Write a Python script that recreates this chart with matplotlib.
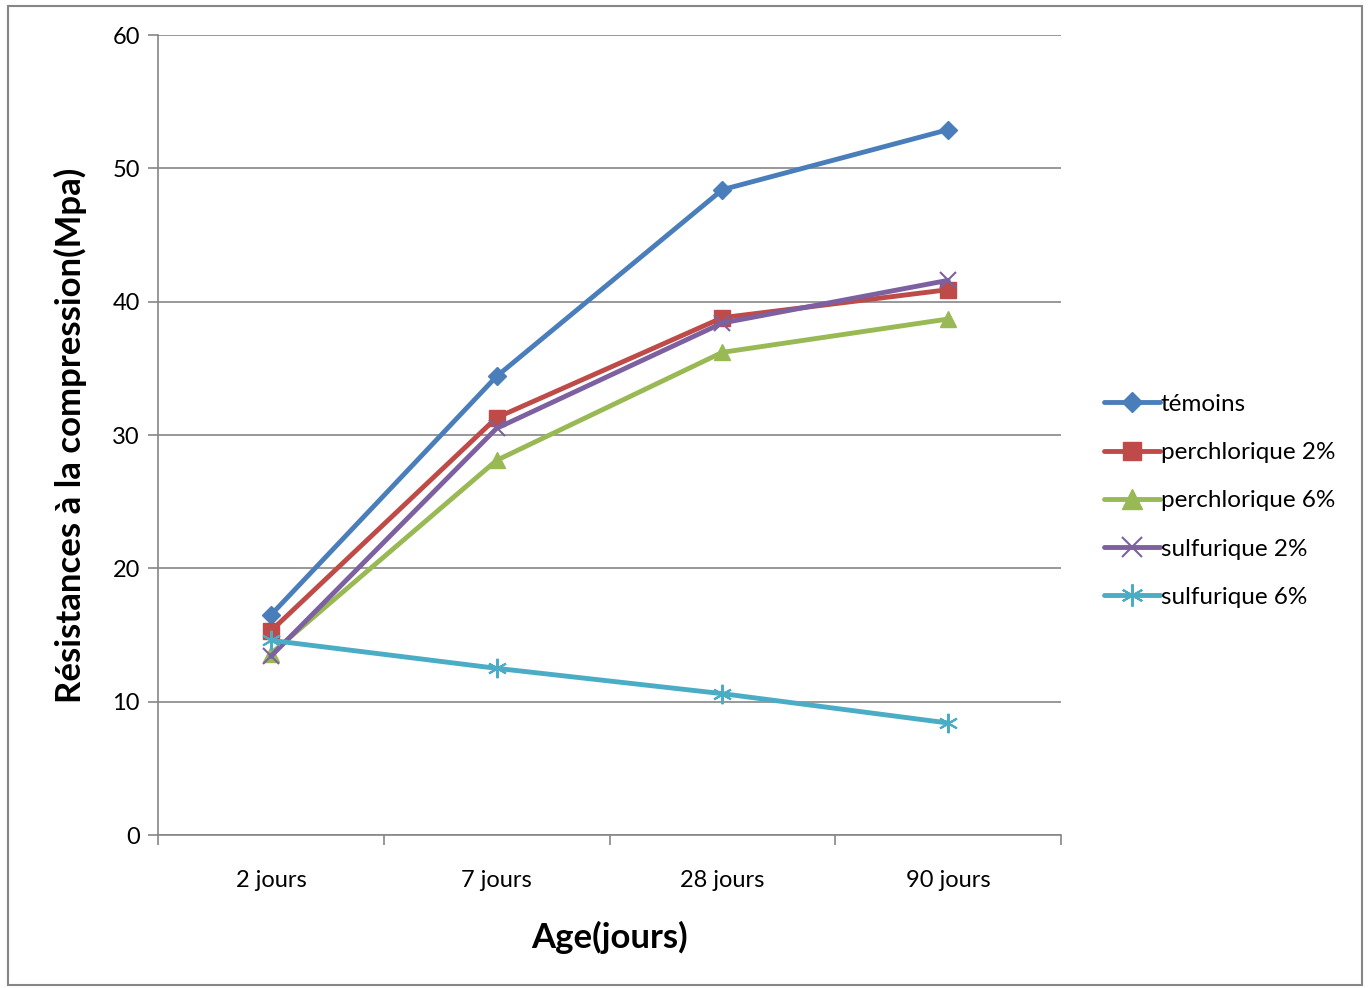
import matplotlib
matplotlib.use("Agg")
import matplotlib.pyplot as plt
from matplotlib.patches import Rectangle
import numpy as np

plt.rcParams['font.family'] = ['Lato', 'DejaVu Sans']

ages = ["2 jours", "7 jours", "28 jours", "90 jours"]
temoins = [16.5, 34.4, 48.4, 52.9]
perchlorique_2 = [15.3, 31.3, 38.8, 40.9]
perchlorique_6 = [13.6, 28.1, 36.2, 38.7]
sulfurique_2 = [13.4, 30.5, 38.4, 41.6]
sulfurique_6 = [14.6, 12.5, 10.6, 8.4]

series = [
    ("témoins", temoins, "#4a7ebb", "D", 9),
    ("perchlorique 2%", perchlorique_2, "#be4b48", "s", 11),
    ("perchlorique 6%", perchlorique_6, "#98b954", "^", 12),
    ("sulfurique 2%", sulfurique_2, "#7d60a0", "x", 12),
    ("sulfurique 6%", sulfurique_6, "#4bacc6", (6, 2, 0), 14),
]

fig = plt.figure(figsize=(13.68, 9.88), dpi=100)
ax = fig.add_axes([158 / 1368, 1 - 835 / 988, (1061 - 158) / 1368, (835 - 35) / 988])

x = np.arange(len(ages))
for name, vals, color, marker, ms in series:
    kw = dict(markerfacecolor=color, markeredgecolor=color)
    if marker in ("x",) or isinstance(marker, tuple):
        kw["markeredgewidth"] = 1.5
    ax.plot(x, vals, color=color, lw=3.5, marker=marker, markersize=ms,
            label=name, solid_capstyle="round", **kw)

ax.set_xlim(-0.5, 3.5)
ax.set_ylim(0, 60)
ax.set_yticks(range(0, 61, 10))
ax.set_xticks(x)
ax.set_xticklabels(ages)
ax.set_xticks(np.arange(-0.5, 3.6, 1), minor=True)
ax.tick_params(axis="x", which="major", length=0, labelsize=17, pad=25)
ax.tick_params(axis="x", which="minor", length=7, color="#868686", width=1.2)
ax.tick_params(axis="y", length=7, color="#868686", width=1.2, labelsize=17, pad=6)
ax.yaxis.grid(True, color="#868686", lw=1.2)
ax.set_axisbelow(True)
for s in ("top", "right"):
    ax.spines[s].set_visible(False)
for s in ("left", "bottom"):
    ax.spines[s].set_color("#868686")
    ax.spines[s].set_linewidth(1.2)

ax.set_xlabel("Age(jours)", fontsize=25, fontweight="bold", labelpad=22)
ax.set_ylabel("Résistances à la compression(Mpa)", fontsize=25, fontweight="bold", labelpad=18)

leg = fig.legend(loc="upper left", bbox_to_anchor=(1082 / 1368, 1 - 372 / 988),
                 frameon=False, fontsize=17.5, handlelength=2.3, handletextpad=0.05,
                 labelspacing=1.12, markerscale=1.15)

fig.patches.append(Rectangle((8 / 1368, 1 - 985 / 988), (1362 - 8) / 1368, (985 - 6) / 988,
                             transform=fig.transFigure, fill=False,
                             edgecolor="#868686", lw=1.5))

fig.savefig("out.png", dpi=100)
